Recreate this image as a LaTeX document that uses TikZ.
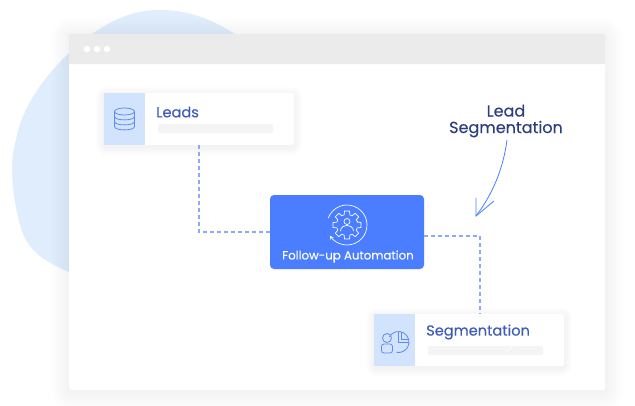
\documentclass[tikz,border=0pt]{standalone}
\usepackage{fontspec}
\setmainfont[FakeBold=0.2]{Poppins}
\usepackage{tikz}
\definecolor{blobblue}{HTML}{DFEDFD}
\definecolor{panelblue}{HTML}{D2E4FD}
\definecolor{autoblue}{HTML}{4A7DFF}
\definecolor{dashblue}{HTML}{8CA9FB}
\definecolor{iconblue}{HTML}{6189EE}
\definecolor{cardtitle}{HTML}{3F5BB8}
\definecolor{notetitle}{HTML}{2B3F7E}
\definecolor{barblue}{HTML}{EBEBEB}
\definecolor{stripgrey}{HTML}{F4F4F4}
\tikzset{
	cardbox/.style={fill=white,rounded corners=2pt,minimum width=190pt,minimum height=52pt,inner sep=0pt},
	panelbox/.style={fill=panelblue,minimum width=41pt,minimum height=52pt,inner sep=0pt,anchor=west},
	stripbox/.style={fill=stripgrey,rounded corners=2pt,minimum width=115pt,minimum height=9pt,inner sep=0pt},
	cardtext/.style={text=cardtitle,font=\fontsize{14.6pt}{16pt}\selectfont,inner sep=0pt,anchor=west},
	iconline/.style={draw=iconblue,line width=0.8pt},
	autoline/.style={draw=white,line width=0.7pt},
	link/.style={draw=dashblue,line width=1.4pt,dash pattern=on 4pt off 3pt}
}
\newcommand{\softcast}[5]{%
	\foreach \s in {1,...,12} {
		\pgfmathsetmacro{\spread}{#5*\s}
		\pgfmathsetmacro{\corner}{2+\spread}
		\fill[black,opacity=0.0045,rounded corners=\corner pt] (#1-\spread,#2-\spread+2) rectangle (#3+\spread,#4+\spread+2);
	}
}
\begin{document}
\begin{tikzpicture}[x=1pt,y=-1pt]
	\useasboundingbox (0,0) rectangle (635,405);
	\fill[white] (0,0) rectangle (635,405);
	% blob behind the window
	\fill[blobblue] (160,10) .. controls (195,10) and (225,25) .. (250,45) -- (250,280) -- (69,272)
		.. controls (45,262) and (27,250) .. (21,228)
		.. controls (14,205) and (8,165) .. (16,140)
		.. controls (22,105) and (50,65) .. (92,34)
		.. controls (115,18) and (135,10) .. (160,10) -- cycle;
	% window
	\softcast{69}{34}{605}{390}{1.5}
	\node (window) [fill=white,rounded corners=2pt,minimum width=536pt,minimum height=356pt,inner sep=0pt] at (337,212) {};
	\fill[barblue,rounded corners=2pt] (window.north west) rectangle (605,64);
	\fill[barblue] (69,40) rectangle (605,64);
	\foreach \x in {87,97,107}
		\fill[white] (\x,49) circle (3.2);
	% cards
	\softcast{104}{93}{294}{145}{0.7}
	\softcast{374}{314}{564}{366}{0.7}
	\node (leads) [cardbox] at (199,119) {};
	\node (leadspanel) [panelbox] at (leads.west) {};
	\node (leadstext) [cardtext] at (156,112) {Leads};
	\node (leadsstrip) [stripbox] at (215.5,128.5) {};
	\node (seg) [cardbox] at (469,340) {};
	\node (segpanel) [panelbox] at (seg.west) {};
	\node (segtext) [cardtext] at (426,332) {Segmentation};
	\node (segstrip) [stripbox] at (485.5,350.5) {};
	\draw[white,line width=0.7pt] (504,348) -- (507,351) -- (513,346);
	% middle box
	\node (auto) [fill=autoblue,rounded corners=4pt,minimum width=154pt,minimum height=74pt,inner sep=0pt] at (347,232) {};
	\node (autotext) [text=white,font=\fontsize{11.8pt}{13pt}\selectfont,inner sep=0pt] at (348,256.5) {Follow-up Automation};
	% connectors
	\coordinate (autoexit) at (auto.east |- 0,236);
	\coordinate (segentry) at (480,314);
	\draw[link] (leads.south) |- (auto.west);
	\draw[link] (autoexit) -| (segentry);
	% database icon
	\begin{scope}[shift={(124.5,119)}]
		\draw[iconline] (0,-7.5) ellipse (10 and 3.5);
		\draw[iconline] (-10,-7.5) -- (-10,7.5) (10,-7.5) -- (10,7.5);
		\draw[iconline] (-10,-2.5) .. controls (-10,2) and (10,2) .. (10,-2.5);
		\draw[iconline] (-10,2.5) .. controls (-10,7) and (10,7) .. (10,2.5);
		\draw[iconline] (-10,7.5) .. controls (-10,12) and (10,12) .. (10,7.5);
	\end{scope}
	% pie and person icon
	\begin{scope}[shift={(394.5,345)}]
		\draw[iconline] (-5.1,-8.25) arc[start angle=-150,end angle=100,radius=10.5];
		\draw[iconline] (3.5,-13) -- (3.5,-3) -- (14.5,-3);
		\draw[iconline] (6.5,-13) -- (6.5,-6) -- (14,-6);
		\draw[iconline] (-7.5,-7) circle (4.5);
		\draw[iconline,fill=panelblue,rounded corners=2.5pt] (-13,8) -- (-13,-1) -- (-2,-1) -- (-2,8) -- cycle;
	\end{scope}
	% gear icon
	\begin{scope}[shift={(347,225)}]
		\draw[autoline,line join=round] (11,-3)
			\foreach \a in {0,45,...,315} {
				-- ({\a-16}:10.5) -- ({\a-10}:14.3) -- ({\a+10}:14.3) -- ({\a+16}:10.5)
			} -- cycle;
		\draw[autoline] (0,-3.5) circle (3);
		\draw[autoline] (-6.5,6) .. controls (-6,-1.5) and (6,-1.5) .. (6.5,6);
		\draw[autoline,->,>=stealth] (-160:20) arc[start angle=-160,end angle=148,radius=20];
	\end{scope}
	% note with arrow
	\node (note) [text=notetitle,font=\fontsize{16pt}{16.5pt}\selectfont,align=center,inner sep=0pt] at (506,121) {Lead\\Segmentation};
	\coordinate (arrowstart) at (507,140);
	\coordinate (arrowtip) at (476,216);
	\coordinate (barbleft) at (476,198);
	\coordinate (barbright) at (494,201);
	\draw[autoblue,line width=0.8pt] (arrowstart) .. controls (503,170) and (492,195) .. (arrowtip);
	\draw[autoblue,line width=0.8pt] (barbleft) -- (arrowtip) -- (barbright);
\end{tikzpicture}
\end{document}
